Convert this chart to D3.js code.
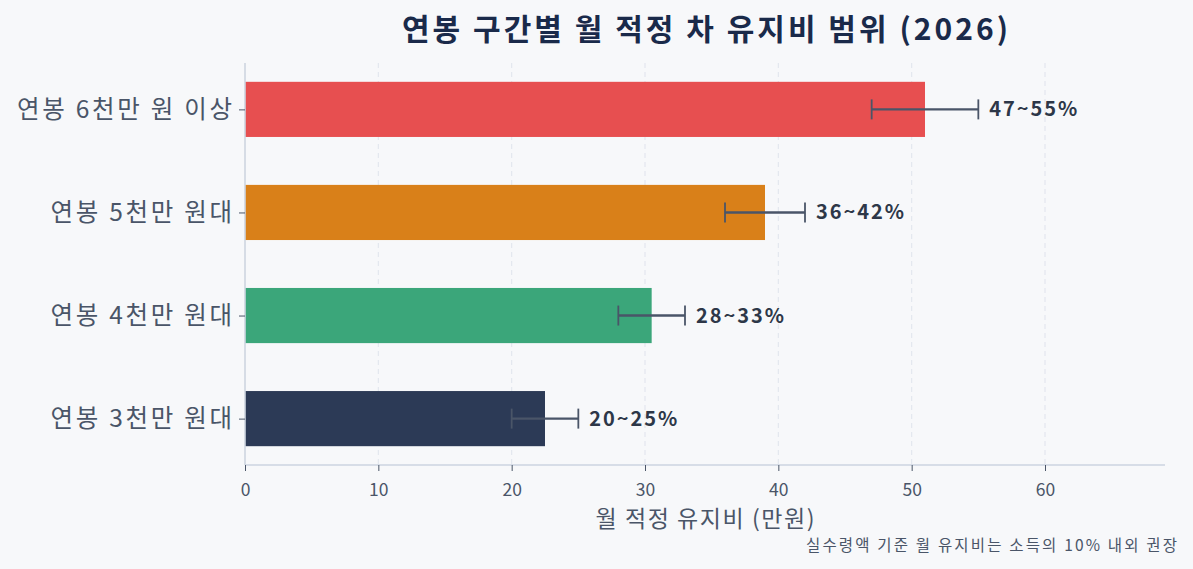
<!DOCTYPE html>
<html><head><meta charset="utf-8">
<script src="https://cdn.jsdelivr.net/npm/d3@7"></script>
<style>
html,body{margin:0;padding:0;background:#f7f8fa;}
svg{display:block;font-family:"Noto Sans CJK KR","Noto Sans",sans-serif;}
</style></head>
<body><svg id="c" width="1193" height="569"></svg>
<script>
const categories = ["연봉 3천만 원대", "연봉 4천만 원대", "연봉 5천만 원대", "연봉 6천만 원 이상"];
const values = [22.5, 30.5, 39, 51];
const lows = [20, 28, 36, 47];
const highs = [25, 33, 42, 55];
const rangeLabels = ["20~25%", "28~33%", "36~42%", "47~55%"];
const colors = ["#2c3a56", "#3ba67a", "#d98019", "#e74f50"];
const xTicks = [0, 10, 20, 30, 40, 50, 60];

const svg = d3.select("#c");
const W = 1193, H = 569;
const m = {left: 245, right: 1165, top: 63, bottom: 465};

const x = d3.scaleLinear().domain([0, 69]).range([m.left, m.right]);
const y = d3.scaleLinear().domain([-0.45, 3.45]).range([m.bottom, m.top]);
const bh = y(0) - y(0.535);

// fit letter-spacing so a text reaches a target width
function spacing(sel, target) {
  const node = sel.node();
  const n = node.textContent.length;
  const w = node.getComputedTextLength();
  return Math.max(0, (target - w) / (n - 1));
}

svg.append("rect").attr("width", W).attr("height", H).attr("fill", "#f7f8fa");

// grid
svg.append("g").selectAll("line").data(xTicks.slice(1)).join("line")
  .attr("x1", d => x(d)).attr("x2", d => x(d))
  .attr("y1", m.top).attr("y2", m.bottom)
  .attr("stroke", "#e3e7ee").attr("stroke-width", 1.2).attr("stroke-dasharray", "5,4");

// bars
svg.append("g").selectAll("rect").data(values).join("rect")
  .attr("x", x(0)).attr("y", (d, i) => y(i) - bh / 2)
  .attr("width", d => x(d) - x(0)).attr("height", bh)
  .attr("fill", (d, i) => colors[i]);

// error bars
const eb = svg.append("g").attr("stroke", "#4a5568").attr("stroke-width", 2.4);
categories.forEach((c, i) => {
  eb.append("line").attr("x1", x(lows[i])).attr("x2", x(highs[i])).attr("y1", y(i)).attr("y2", y(i));
  [lows[i], highs[i]].forEach(v => {
    eb.append("line").attr("x1", x(v)).attr("x2", x(v)).attr("y1", y(i) - 10).attr("y2", y(i) + 10).attr("stroke-width", 1.8);
  });
});

// range labels
const rl = svg.append("g").selectAll("text").data(rangeLabels).join("text")
  .attr("x", (d, i) => x(highs[i]) + 11).attr("y", (d, i) => y(i))
  .attr("dy", "0.35em").attr("font-size", 20).attr("font-weight", "bold")
  .attr("fill", "#2d3748").text(d => d);
rl.attr("letter-spacing", spacing(rl.filter((d, i) => i === 3), 88));

// spines
svg.append("line").attr("x1", m.left).attr("x2", m.left).attr("y1", m.top).attr("y2", m.bottom)
  .attr("stroke", "#cdd5e0").attr("stroke-width", 1.6);
svg.append("line").attr("x1", m.left).attr("x2", m.right).attr("y1", m.bottom).attr("y2", m.bottom)
  .attr("stroke", "#cdd5e0").attr("stroke-width", 1.6);

// x axis
const xa = svg.append("g").attr("transform", `translate(0,${m.bottom})`)
  .call(d3.axisBottom(x).tickValues(xTicks).tickSize(6).tickPadding(13).tickFormat(d3.format("d")));
xa.select(".domain").remove();
xa.selectAll("line").attr("stroke", "#4a5568");
xa.selectAll("text").attr("font-size", 17.5).attr("fill", "#4a5568").attr("font-family", "Noto Sans CJK KR");

// y axis
const ya = svg.append("g").attr("transform", `translate(${m.left},0)`)
  .call(d3.axisLeft(y).tickValues([0, 1, 2, 3]).tickSize(6).tickPadding(13).tickFormat(i => categories[i]));
ya.select(".domain").remove();
ya.selectAll("line").attr("stroke", "#4a5568");
const yt = ya.selectAll("text").attr("font-size", 24.5).attr("fill", "#4a5568").attr("font-family", "Noto Sans CJK KR");
const yls = spacing(yt.filter(i => i === 3), 215);
yt.attr("letter-spacing", yls).attr("x", -13 + yls);

// title
const title = svg.append("text").attr("y", 40).attr("text-anchor", "middle")
  .attr("font-size", 30).attr("font-weight", "bold").attr("fill", "#1a2a4a")
  .text("연봉 구간별 월 적정 차 유지비 범위 (2026)");
const ts = spacing(title, 606);
title.attr("letter-spacing", ts).attr("x", (m.left + m.right) / 2 + ts / 2);

// x label
const xl = svg.append("text").attr("y", 527).attr("text-anchor", "middle")
  .attr("font-size", 23).attr("fill", "#4a5568").text("월 적정 유지비 (만원)");
const xs = spacing(xl, 219);
xl.attr("letter-spacing", xs).attr("x", (m.left + m.right) / 2 + xs / 2);

// footnote
const fn = svg.append("text").attr("y", 551).attr("text-anchor", "end")
  .attr("font-size", 15.5).attr("fill", "#4a5568").text("실수령액 기준 월 유지비는 소득의 10% 내외 권장");
const fs = spacing(fn, 371);
fn.attr("letter-spacing", fs).attr("x", 1177 + fs);
</script></body></html>
